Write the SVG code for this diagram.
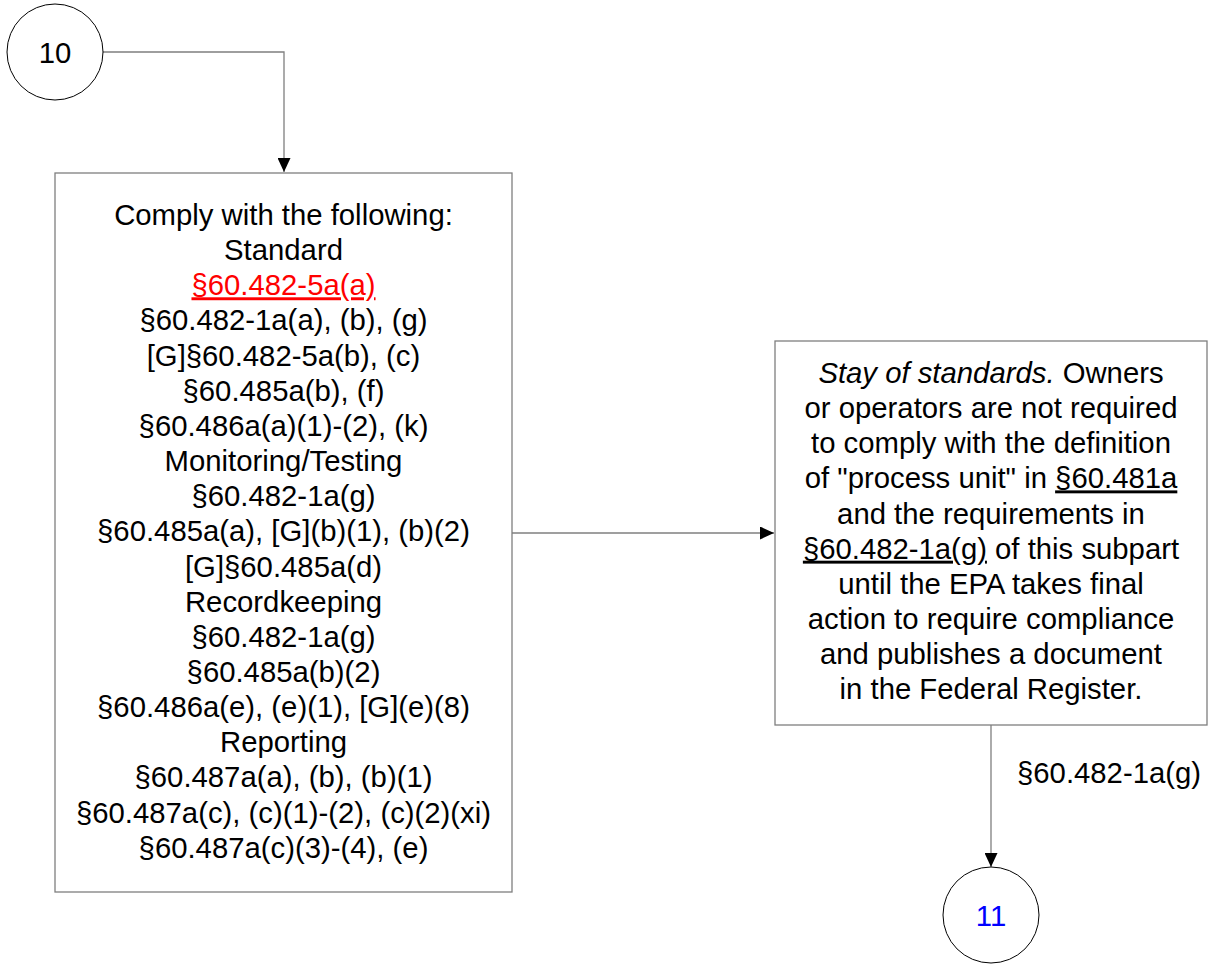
<svg xmlns="http://www.w3.org/2000/svg" width="1208" height="964" viewBox="0 0 1208 964">
  <style>
    text { font-family: "Liberation Sans", Arial, sans-serif; font-size: 29.3px; fill: #000; }
    .mid { text-anchor: middle; }
    .box { fill: #fff; stroke: #7f7f7f; stroke-width: 1.3; }
    .circ { fill: #fff; stroke: #000; stroke-width: 1; }
    .edge { fill: none; stroke: #7f7f7f; stroke-width: 1.3; }
    .ul { text-decoration: underline; text-decoration-skip-ink: none; }
    .red { fill: #ff0000; }
    .blue { fill: #0000ff; }
  </style>
  <defs>
    <marker id="arrow" viewBox="0 0 14 13" refX="14" refY="6.5" markerWidth="14" markerHeight="13" markerUnits="userSpaceOnUse" orient="auto">
      <path d="M0,0 L14,6.5 L0,13 Z" fill="#000"/>
    </marker>
  </defs>
  <rect width="1208" height="964" fill="#fff"/>

  <!-- connectors -->
  <g id="connectors">
    <path class="edge" d="M103,52 H284 V172" marker-end="url(#arrow)"/>
    <path class="edge" d="M512,533 H774" marker-end="url(#arrow)"/>
    <path class="edge" d="M991,725 V867" marker-end="url(#arrow)"/>
    <text x="1017" y="783">§60.482-1a(g)</text>
  </g>

  <!-- off-page connector 10 -->
  <g id="node-10">
    <circle class="circ" cx="55" cy="52" r="48"/>
    <text class="mid" x="55" y="62.5">10</text>
  </g>

  <!-- requirements list -->
  <g id="node-comply">
    <rect class="box" x="55" y="173" width="457" height="719"/>
    <text class="mid" x="283.5" y="225">Comply with the following:</text>
    <text class="mid" x="283.5" y="260.1">Standard</text>
    <text class="mid red ul" x="283.5" y="295.3">§60.482-5a(a)</text>
    <text class="mid" x="283.5" y="330.4">§60.482-1a(a), (b), (g)</text>
    <text class="mid" x="283.5" y="365.6">[G]§60.482-5a(b), (c)</text>
    <text class="mid" x="283.5" y="400.7">§60.485a(b), (f)</text>
    <text class="mid" x="283.5" y="435.9">§60.486a(a)(1)-(2), (k)</text>
    <text class="mid" x="283.5" y="471">Monitoring/Testing</text>
    <text class="mid" x="283.5" y="506.2">§60.482-1a(g)</text>
    <text class="mid" x="283.5" y="541.3">§60.485a(a), [G](b)(1), (b)(2)</text>
    <text class="mid" x="283.5" y="576.5">[G]§60.485a(d)</text>
    <text class="mid" x="283.5" y="611.6">Recordkeeping</text>
    <text class="mid" x="283.5" y="646.8">§60.482-1a(g)</text>
    <text class="mid" x="283.5" y="681.9">§60.485a(b)(2)</text>
    <text class="mid" x="283.5" y="717.1">§60.486a(e), (e)(1), [G](e)(8)</text>
    <text class="mid" x="283.5" y="752.2">Reporting</text>
    <text class="mid" x="283.5" y="787.4">§60.487a(a), (b), (b)(1)</text>
    <text class="mid" x="283.5" y="822.5">§60.487a(c), (c)(1)-(2), (c)(2)(xi)</text>
    <text class="mid" x="283.5" y="857.7">§60.487a(c)(3)-(4), (e)</text>
  </g>

  <!-- stay of standards note -->
  <g id="node-stay">
    <rect class="box" x="775" y="341" width="432" height="384"/>
    <text class="mid" x="991" y="383"><tspan font-style="italic">Stay of standards.</tspan> Owners</text>
    <text class="mid" x="991" y="418.1">or operators are not required</text>
    <text class="mid" x="991" y="453.3">to comply with the definition</text>
    <text class="mid" x="991" y="488.4">of "process unit" in <tspan class="ul">§60.481a</tspan></text>
    <text class="mid" x="991" y="523.6">and the requirements in</text>
    <text class="mid" x="991" y="558.7"><tspan class="ul">§60.482-1a(g)</tspan> of this subpart</text>
    <text class="mid" x="991" y="593.9">until the EPA takes final</text>
    <text class="mid" x="991" y="629">action to require compliance</text>
    <text class="mid" x="991" y="664.2">and publishes a document</text>
    <text class="mid" x="991" y="699.3">in the Federal Register.</text>
  </g>

  <!-- off-page connector 11 -->
  <g id="node-11">
    <circle class="circ" cx="991" cy="915" r="48"/>
    <text class="mid blue" x="991" y="925.5">11</text>
  </g>
</svg>
